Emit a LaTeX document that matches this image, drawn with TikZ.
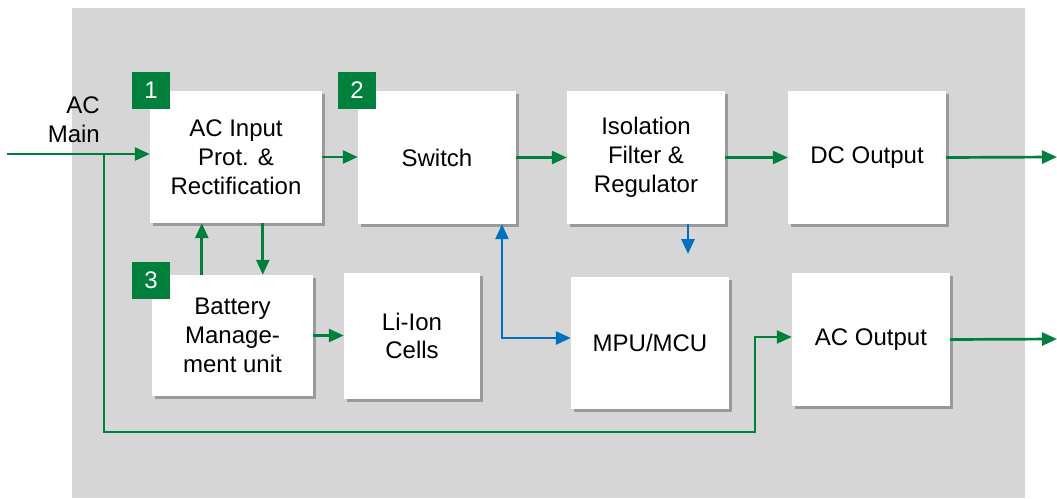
\documentclass[tikz,border=0pt]{standalone}
\usepackage{fontspec}
\setmainfont{Liberation Sans}
\usetikzlibrary{arrows.meta,shadows}
\definecolor{grn}{RGB}{0,128,60}
\definecolor{blu}{RGB}{0,112,192}
\definecolor{bgc}{RGB}{214,214,214}
\begin{document}
\begin{tikzpicture}[x=1pt,y=-1pt,
  blk/.style={fill=white, align=center, inner sep=0pt,
    font=\fontsize{24}{28.8}\selectfont,
    drop shadow={shadow xshift=3pt,shadow yshift=-3pt,fill=black,opacity=0.28}},
  tag/.style={fill=grn, text=white, minimum width=38pt, minimum height=37pt,
    inner sep=0pt, font=\fontsize{24}{28}\selectfont},
  garr/.style={draw=grn, line width=2.7pt, -{Triangle[length=15pt,width=13pt]}},
  gline/.style={draw=grn, line width=2.3pt, -{Triangle[length=15pt,width=13pt]}},
  barr/.style={draw=blu, line width=2.7pt, -{Triangle[length=15pt,width=13pt]}},
  bboth/.style={draw=blu, line width=2.7pt, {Triangle[length=15pt,width=13pt]}-{Triangle[length=15pt,width=13pt]}},
  lbl/.style={inner sep=0pt, align=right, font=\fontsize{24}{28.8}\selectfont}
]
\useasboundingbox (0,0) rectangle (1057,498);
\fill[bgc] (72,8) rectangle (1025,498);

% blocks
\node[blk, minimum width=172pt, minimum height=132pt] (acin) at (236,157) {AC Input\\Prot. \&\\Rectification};
\node[blk, minimum width=158pt, minimum height=133pt] (sw) at (437,157.5) {Switch};
\node[blk, minimum width=158pt, minimum height=133pt] (iso) at (646,157.5) {Isolation\\Filter \&\\Regulator};
\node[blk, minimum width=158pt, minimum height=133pt] (dc) at (867,157.5) {DC Output};
\node[blk, minimum width=161pt, minimum height=121pt] (bat) at (232.5,335.5) {Battery\\Manage-\\ment unit};
\node[blk, minimum width=136pt, minimum height=126pt] (li) at (412,336) {Li-Ion\\Cells};
\node[blk, minimum width=158pt, minimum height=132pt] (mpu) at (650,343) {MPU/MCU};
\node[blk, minimum width=158pt, minimum height=133pt] (aco) at (871,339.5) {AC Output};

% number tags
\node[tag] (t1) at (151,90.5) {1};
\node[tag] (t2) at (357,90.5) {2};
\node[tag] (t3) at (151,280) {3};

% AC main label
\node[lbl, anchor=east] (acm) at (100,120) {AC\\Main};

% coordinates
\coordinate (src) at (7,154);
\coordinate (br) at (104,154);
\coordinate (bb) at (755,432);
\coordinate (bc) at (755,337);
\coordinate (dcend) at (1057,157);
\coordinate (acend) at (1057,339);
\coordinate (bj) at (502,338);
\coordinate (isoend) at (688,254);

% green connectors
\draw[garr] (src) -- (src -| acin.west);
\draw[gline] (br) -- (br |- bb) -- (bb) -- (bc) -- (bc -| aco.west);
\draw[garr] (acin.east) -- (acin.east -| sw.west);
\draw[garr] (sw.east) -- (iso.west);
\draw[garr] (iso.east) -- (dc.west);
\draw[garr] (dc.east) -- (dcend);
\draw[garr] (aco.east) -- (acend);
\draw[garr] ([xshift=50pt]bat.north west) -- ([xshift=50pt]bat.north west |- acin.south);
\draw[garr] ([xshift=113pt]acin.south west) -- ([xshift=113pt]acin.south west |- bat.north);
\draw[garr] (bat.east) -- (bat.east -| li.west);

% blue connectors
\draw[bboth] (bj |- sw.south) -- (bj) -- (bj -| mpu.west);
\draw[barr] (isoend |- iso.south) -- (isoend);
\end{tikzpicture}
\end{document}
